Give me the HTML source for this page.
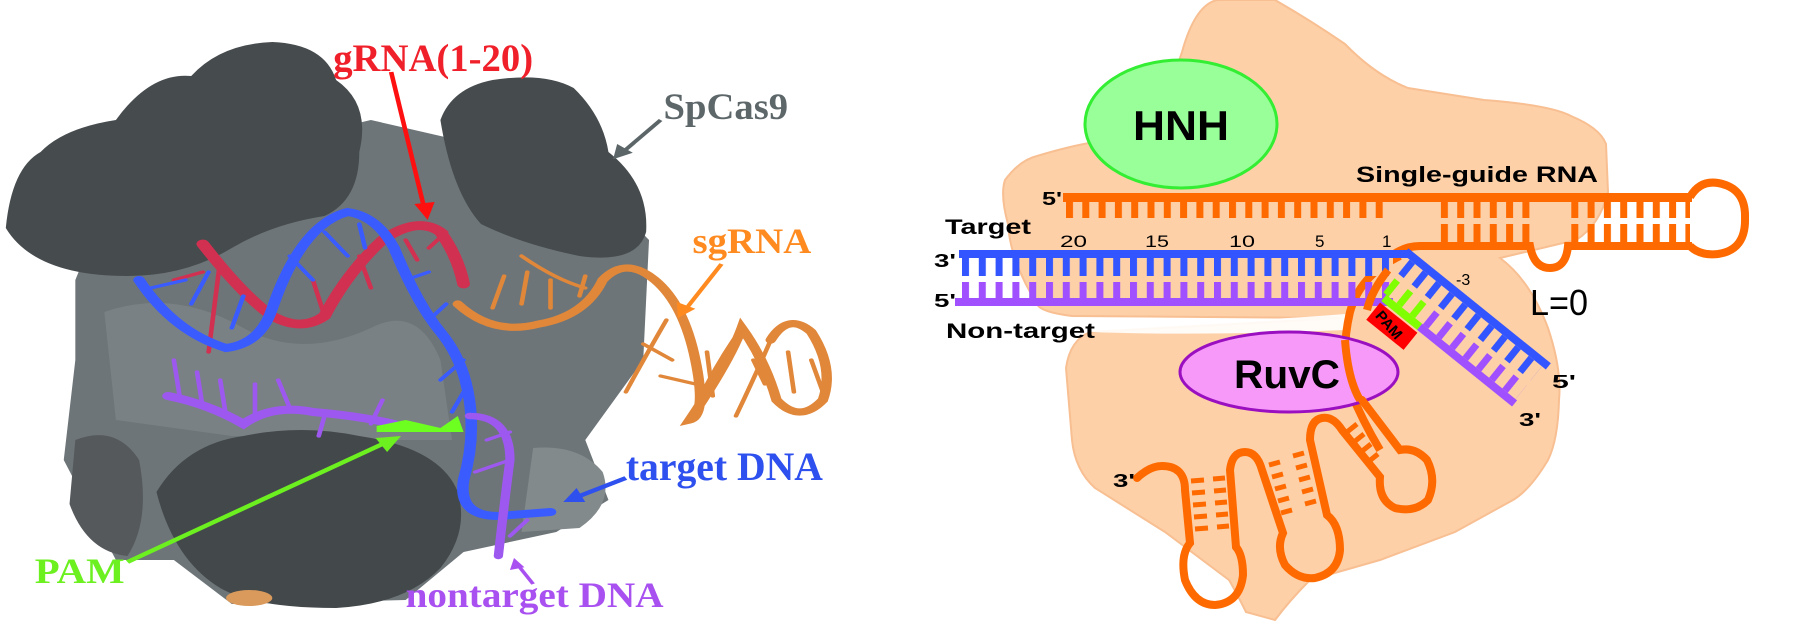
<!DOCTYPE html>
<html><head><meta charset="utf-8"><style>
html,body{margin:0;padding:0;background:#fff;}
body{width:1808px;height:624px;position:relative;overflow:hidden;}
svg{position:absolute;top:0;}
</style></head><body>
<!-- LEFT PANEL: coordinates in a 1560x1560 space stretched to 904x624 -->
<svg style="left:0" width="904" height="624" viewBox="0 0 1560 1560" preserveAspectRatio="none">
<defs>
<marker id="ar" markerWidth="4" markerHeight="4" refX="3" refY="2" orient="auto"><path d="M0,0 L4,2 L0,4 Z" fill="#ff1010"/></marker>
</defs>
<!-- mid gray body -->
<path d="M130,700 L200,450 L640,300 L1000,420 L1120,600 L1110,900 L1010,1100 L1050,1250 L960,1330 L800,1380 L700,1500 L400,1510 L300,1400 L200,1400 L110,1150 L130,900 Z" fill="#6d7578"/>
<path d="M180,780 Q300,720 420,820 Q520,900 640,820 Q720,760 760,900 L780,1100 L600,1100 L400,1090 L200,1050 Z" fill="#7a8184"/>
<path d="M920,1120 Q1000,1110 1040,1180 Q1060,1260 1000,1320 L900,1330 Z" fill="#828a8c"/>
<!-- dark lobes -->
<path d="M10,570 Q20,420 70,380 Q110,320 200,300 Q260,180 330,190 Q380,110 470,105 Q560,110 580,200 Q640,260 620,380 Q620,500 560,540 Q470,560 400,620 Q320,690 220,690 Q60,690 10,570 Z" fill="#464b4d"/>
<path d="M760,300 Q780,220 850,200 Q940,180 990,220 Q1040,290 1050,380 Q1120,460 1115,580 Q1100,660 1000,640 Q900,610 830,560 Q780,480 760,300 Z" fill="#464b4d"/>
<path d="M270,1230 Q320,1110 420,1090 Q520,1060 620,1090 Q760,1120 790,1230 Q810,1330 760,1420 Q700,1510 580,1520 Q440,1520 380,1470 Q300,1400 270,1230 Z" fill="#43484a"/>
<path d="M130,1100 Q200,1060 240,1150 Q260,1300 220,1390 Q150,1380 120,1260 Z" fill="#55595b"/>
<ellipse cx="430" cy="1495" rx="40" ry="20" fill="#d99a5c"/>
<!-- orange sgRNA helix -->
<g fill="none" stroke="#e0873a" stroke-linecap="round">
<path d="M790,760 Q850,840 930,810 Q1010,790 1040,700 Q1080,640 1130,700 Q1180,760 1200,900 Q1220,1040 1190,1050 Q1260,900 1280,820 Q1320,900 1340,1000 Q1380,1060 1420,1000 Q1440,920 1400,830 Q1360,780 1330,850" stroke-width="18"/>
<path d="M900,640 Q960,700 1010,720 M1080,980 Q1110,900 1150,800 M1280,820 Q1230,920 1190,1050 M1330,850 Q1300,950 1270,1040" stroke-width="8"/>
<path d="M850,770 L870,690 M900,760 L910,680 M950,770 L950,700 M1000,740 L1010,690 M1110,860 L1160,900 M1140,940 L1200,960 M1220,880 L1230,990 M1300,900 L1320,960 M1360,880 L1370,980 M1400,900 L1420,980" stroke-width="8"/>
</g>
<!-- red gRNA -->
<g fill="none" stroke="#d23050" stroke-linecap="round">
<path d="M350,610 Q420,740 470,790 Q520,830 560,790 Q600,680 660,600 Q720,540 760,580 Q790,640 800,710" stroke-width="22"/>
<path d="M380,650 L360,880 M540,700 L560,790 M620,640 L640,720 M700,600 L720,650 M740,620 L770,580 M300,700 L350,680" stroke-width="8"/>
</g>
<!-- blue target strand -->
<g fill="none" stroke="#3a5cff" stroke-linecap="round">
<path d="M240,700 Q300,830 390,870 Q450,860 470,770 Q520,560 600,530 Q650,540 680,620 Q720,760 760,830 Q800,900 810,1000 Q820,1100 800,1200 Q790,1290 860,1290 L950,1280" stroke-width="20"/>
<path d="M260,720 L320,700 M330,760 L360,680 M400,820 L420,740 M500,640 L540,700 M560,580 L600,640 M620,560 L630,620 M700,700 L740,680 M740,800 L770,760 M760,950 L800,900 M780,1030 L800,980" stroke-width="8"/>
</g>
<!-- purple nontarget -->
<g fill="none" stroke="#9d58f0" stroke-linecap="round">
<path d="M290,990 Q360,1010 420,1060 Q470,1010 540,1030 Q620,1040 680,1060" stroke-width="20"/>
<path d="M810,1040 Q880,1040 880,1150 Q870,1260 860,1390" stroke-width="16"/>
<path d="M300,900 L310,990 M340,930 L350,1020 M380,950 L390,1040 M440,960 L440,1040 M480,950 L500,1020 M560,1040 L550,1090 M660,1000 L640,1060 M840,1100 L880,1080 M820,1180 L880,1150 M880,1340 L910,1300" stroke-width="8"/>
</g>
<path d="M650,1065 L700,1050 L760,1070 L790,1040 L800,1080 L650,1080 Z" fill="#6cff20"/>
<!-- arrows -->
<line x1="675" y1="180" x2="732" y2="520" stroke="#ff1010" stroke-width="8"/>
<path d="M715,510 L738,550 L750,505 Z" fill="#ff1010"/>
<line x1="1140" y1="300" x2="1075" y2="380" stroke="#5c6669" stroke-width="8"/>
<path d="M1058,398 L1065,360 L1092,382 Z" fill="#5c6669"/>
<line x1="1245" y1="660" x2="1185" y2="770" stroke="#ff8a20" stroke-width="8"/>
<path d="M1170,795 L1168,755 L1200,772 Z" fill="#ff8a20"/>
<line x1="1080" y1="1195" x2="1000" y2="1240" stroke="#2e50ee" stroke-width="10"/>
<path d="M972,1255 L995,1220 L1010,1255 Z" fill="#2e50ee"/>
<line x1="220" y1="1405" x2="660" y2="1110" stroke="#6cf020" stroke-width="10"/>
<path d="M692,1090 L648,1095 L668,1130 Z" fill="#6cf020"/>
<line x1="920" y1="1460" x2="895" y2="1415" stroke="#a850f0" stroke-width="7"/>
<path d="M887,1395 L880,1425 L905,1418 Z" fill="#a850f0"/>
<!-- labels -->
<g font-family="'Liberation Serif',serif" font-weight="bold">
<text x="575" y="178" font-size="98" fill="#f0202a" textLength="345" lengthAdjust="spacingAndGlyphs">gRNA(1-20)</text>
<text x="1145" y="298" font-size="92" fill="#5d676a" textLength="215" lengthAdjust="spacingAndGlyphs">SpCas9</text>
<text x="1195" y="632" font-size="90" fill="#ff8a20" textLength="205" lengthAdjust="spacingAndGlyphs">sgRNA</text>
<text x="1080" y="1200" font-size="100" fill="#2e50ee" textLength="340" lengthAdjust="spacingAndGlyphs">target DNA</text>
<text x="60" y="1458" font-size="90" fill="#6cf020" textLength="155" lengthAdjust="spacingAndGlyphs">PAM</text>
<text x="700" y="1518" font-size="90" fill="#a850f0" textLength="445" lengthAdjust="spacingAndGlyphs">nontarget DNA</text>
</g>
</svg>

<!-- RIGHT PANEL: original pixel coords -->
<svg style="left:0" width="1808" height="624" viewBox="0 0 1808 624">
<defs>
<pattern id="tb" x="962" y="0" width="16.8" height="10" patternUnits="userSpaceOnUse"><rect x="0" y="0" width="7" height="10" fill="#3355ff"/></pattern>
<pattern id="tp" x="962" y="0" width="16.8" height="10" patternUnits="userSpaceOnUse"><rect x="0" y="0" width="7" height="10" fill="#a050ff"/></pattern>
<pattern id="to" x="1066" y="0" width="16.3" height="10" patternUnits="userSpaceOnUse"><rect x="0" y="0" width="7" height="10" fill="#ff6a00"/></pattern>
<pattern id="tdb" x="0" y="0" width="17" height="10" patternUnits="userSpaceOnUse"><rect x="4" y="0" width="7" height="10" fill="#3355ff"/></pattern>
<pattern id="tdp" x="0" y="0" width="17" height="10" patternUnits="userSpaceOnUse"><rect x="4" y="0" width="7" height="10" fill="#a050ff"/></pattern>
<pattern id="tdg" x="0" y="0" width="17" height="10" patternUnits="userSpaceOnUse"><rect x="4" y="0" width="7" height="10" fill="#80ff00"/></pattern>
</defs>
<!-- peach blob -->
<path d="M1182,52 Q1195,5 1217,0 L1275,0 Q1310,20 1345,44 Q1375,75 1408,88 L1484,100 Q1550,105 1571,116 Q1600,128 1606,144 L1608,192 Q1600,225 1576,240 L1500,258 Q1530,280 1548,328 Q1562,370 1559,400 Q1558,440 1548,460 Q1530,490 1513,500 L1455,532 L1380,560 L1310,580 Q1290,600 1275,620 L1246,612 Q1235,590 1229,580 L1165,532 L1095,488 Q1075,470 1072,440 L1066,368 Q1070,340 1090,332 L1340,318 L1072,316 Q1040,312 1037,304 Q1010,260 1008,224 Q1000,195 1005,180 Q1020,160 1037,156 Q1070,146 1095,142 Q1130,128 1148,120 Q1170,90 1182,52 Z" fill="#fdd0a8" stroke="#f8bf92" stroke-width="2"/>
<path d="M1090,318 Q1200,326 1345,314 L1345,330 Q1200,336 1090,332 Z" fill="#fff" opacity="0.9"/>
<!-- HNH -->
<ellipse cx="1181" cy="124" rx="96" ry="64" fill="#99ff99" stroke="#33ee33" stroke-width="3"/>
<text x="1133" y="140" font-family="'Liberation Sans',sans-serif" font-weight="bold" font-size="42" textLength="96" lengthAdjust="spacingAndGlyphs">HNH</text>
<!-- sgRNA ladder -->
<rect x="1063" y="193" width="629" height="9" fill="#ff6a00"/>
<rect x="1066" y="202" width="326" height="16" fill="url(#to)"/>
<rect x="1436" y="202" width="94" height="16" fill="url(#to)"/>
<rect x="1436" y="224" width="94" height="18" fill="url(#to)"/>
<rect x="1568" y="202" width="122" height="16" fill="url(#to)"/>
<rect x="1568" y="224" width="122" height="18" fill="url(#to)"/>
<path d="M1385,262 Q1400,246 1420,246 L1530,246 Q1534,268 1550,268 Q1566,268 1568,246 L1692,246" fill="none" stroke="#ff6a00" stroke-width="8"/>
<path d="M1690,197 Q1700,180 1718,183 Q1746,188 1745,218 Q1746,250 1718,254 Q1700,256 1690,246" fill="none" stroke="#ff6a00" stroke-width="8"/>
<!-- orange strand down to stem loops -->
<path d="M1400,256 Q1360,275 1350,312 Q1340,355 1350,390 Q1362,420 1380,450" fill="none" stroke="#ff6a00" stroke-width="8"/>
<!-- target / non-target duplex -->
<rect x="1331" y="258" width="62" height="18" fill="#fdd0a8"/>
<rect x="959" y="250" width="452" height="8" fill="#3355ff"/>
<rect x="962" y="258" width="430" height="18" fill="url(#tb)"/>
<rect x="962" y="282" width="430" height="18" fill="url(#tp)"/>
<rect x="955" y="298" width="438" height="8" fill="#a050ff"/>
<path d="M1388,270 Q1372,290 1367,310" fill="none" stroke="#ff6a00" stroke-width="8"/>
<!-- diagonal duplex -->
<g transform="translate(1409,254) rotate(38.9)">
<rect x="-4" y="-4" width="183" height="8" fill="#3355ff"/>
<rect x="2" y="4" width="172" height="18" fill="url(#tdb)"/>
<rect x="2" y="28" width="52" height="18" fill="url(#tdg)"/>
<rect x="54" y="28" width="120" height="18" fill="url(#tdp)"/>
<rect x="8" y="46" width="46" height="8" fill="#80ff00"/>
<rect x="54" y="46" width="122" height="8" fill="#a050ff"/>
<rect x="8" y="56" width="48" height="22" fill="#ff0000"/>
<text x="13" y="73" font-family="'Liberation Sans',sans-serif" font-weight="bold" font-size="15" transform="rotate(10 30 67)">PAM</text>
</g>
<!-- RuvC -->
<ellipse cx="1289" cy="372" rx="109" ry="40" fill="#f799f9" stroke="#9a10c0" stroke-width="3"/>
<path d="M1345,340 Q1348,380 1360,400" fill="none" stroke="#ff6a00" stroke-width="8"/>
<text x="1234" y="388" font-family="'Liberation Sans',sans-serif" font-weight="bold" font-size="40" textLength="106" lengthAdjust="spacingAndGlyphs">RuvC</text>
<!-- stem loops -->
<g fill="none" stroke="#ff6a00" stroke-width="8" stroke-linecap="round">
<path d="M1137,478 Q1150,466 1162,466 Q1185,466 1185,490 L1190,543 Q1180,555 1185,580 Q1195,605 1215,605 Q1240,603 1243,575 Q1243,555 1236,547 L1230,470 Q1232,452 1245,452 Q1257,452 1262,470 L1283,533 Q1276,548 1285,565 Q1298,580 1315,578 Q1338,573 1340,550 Q1340,525 1327,515 L1310,440 Q1310,420 1322,418 Q1333,416 1342,430 L1380,477 Q1378,500 1395,508 Q1415,513 1428,500 Q1437,480 1427,460 Q1415,447 1400,450 L1362,400"/>
</g>
<g stroke="#ff6a00" stroke-width="5">
<path d="M1191,481 L1204,480 M1192,493 L1205,492 M1193,505 L1206,504 M1194,517 L1207,516 M1195,529 L1208,528"/>
<path d="M1213,479 L1225,478 M1214,491 L1226,490 M1215,503 L1227,502 M1216,515 L1228,514 M1217,527 L1229,526"/>
<path d="M1269,465 L1280,462 M1272,477 L1283,474 M1275,489 L1286,486 M1278,501 L1289,498 M1281,513 L1292,510"/>
<path d="M1293,456 L1304,453 M1296,468 L1307,465 M1299,480 L1310,477 M1302,492 L1313,489 M1305,504 L1316,501"/>
<path d="M1347,432 L1357,424 M1354,442 L1364,434 M1361,452 L1371,444 M1368,462 L1378,454"/>
</g>
<!-- labels -->
<g font-family="'Liberation Sans',sans-serif" font-weight="bold" fill="#000">
<text x="1356" y="182" font-size="22" textLength="242" lengthAdjust="spacingAndGlyphs">Single-guide RNA</text>
<text x="1042" y="205" font-size="18" textLength="20" lengthAdjust="spacingAndGlyphs">5'</text>
<text x="945" y="234" font-size="21" textLength="86" lengthAdjust="spacingAndGlyphs">Target</text>
<text x="1060" y="247" font-size="17" font-weight="normal" textLength="27" lengthAdjust="spacingAndGlyphs">20</text>
<text x="1145" y="247" font-size="17" font-weight="normal" textLength="24" lengthAdjust="spacingAndGlyphs">15</text>
<text x="1229" y="247" font-size="17" font-weight="normal" textLength="26" lengthAdjust="spacingAndGlyphs">10</text>
<text x="1315" y="247" font-size="17" font-weight="normal">5</text>
<text x="1382" y="247" font-size="17" font-weight="normal">1</text>
<text x="934" y="267" font-size="18" textLength="22" lengthAdjust="spacingAndGlyphs">3'</text>
<text x="934" y="307" font-size="18" textLength="22" lengthAdjust="spacingAndGlyphs">5'</text>
<text x="946" y="338" font-size="21" textLength="149" lengthAdjust="spacingAndGlyphs">Non-target</text>
<text x="1456" y="285" font-size="16" font-weight="normal">-3</text>
<text x="1530" y="315" font-size="36" font-weight="normal" textLength="58" lengthAdjust="spacingAndGlyphs">L=0</text>
<text x="1552" y="388" font-size="18" textLength="24" lengthAdjust="spacingAndGlyphs">5'</text>
<text x="1519" y="426" font-size="18" textLength="22" lengthAdjust="spacingAndGlyphs">3'</text>
<text x="1113" y="487" font-size="18" textLength="22" lengthAdjust="spacingAndGlyphs">3'</text>
</g>
</svg>
</body></html>
